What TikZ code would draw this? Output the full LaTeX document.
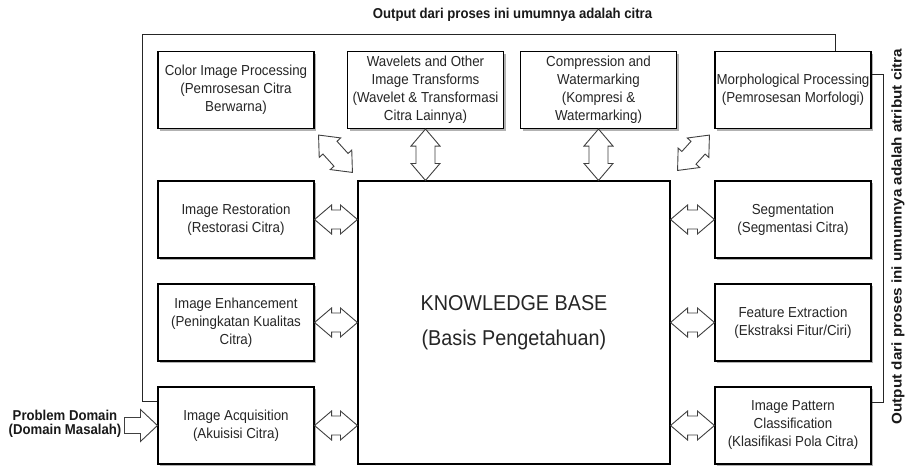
\documentclass[tikz,border=0pt]{standalone}
\usepackage{fontspec}
\setmainfont[FakeStretch=0.92]{Liberation Sans}
\newfontfamily\vfont{Liberation Sans}
\usetikzlibrary{calc,shadows}
\tikzset{
  box/.style={draw=black, line width=1.1pt, fill=white, minimum width=156pt, minimum height=77pt,
    inner sep=0pt, align=center, font=\fontsize{14.5}{18}\selectfont, text=black!85,
    general shadow={fill=black!30, shadow xshift=2pt, shadow yshift=-2pt}},
  kbbox/.style={draw=black, line width=1.1pt, fill=white, minimum width=312pt, minimum height=283pt,
    inner sep=0pt, align=center, font=\fontsize{21.5}{35}\selectfont, text=black!85},
  frameline/.style={draw=black!85, line width=0.9pt},
  blockarrow/.style={draw=black!75, line width=0.9pt, fill=white, line join=miter},
  boldlabel/.style={font=\bfseries\fontsize{14.3}{14}\selectfont, text=black!90, align=center, inner sep=0pt},
}
\newcommand\dblarrow[2]{%
  \path #1; \pgfgetlastxy{\ax}{\ay}%
  \path #2; \pgfgetlastxy{\bx}{\by}%
  \pgfmathsetmacro\alen{veclen(\bx-\ax,\by-\ay)}%
  \pgfmathsetmacro\aang{atan2(\by-\ay,\bx-\ax)}%
  \begin{scope}[shift={(\ax,\ay)}, rotate=\aang, x=1pt, y=1pt]
    \draw[blockarrow] (0,0) -- (17,14.5) -- (17,9.5) -- (\alen-17,9.5) -- (\alen-17,14.5)
      -- (\alen,0) -- (\alen-17,-14.5) -- (\alen-17,-9.5) -- (17,-9.5) -- (17,-14.5) -- cycle;
  \end{scope}}
\begin{document}
\begin{tikzpicture}[x=1pt, y=-1pt]
\useasboundingbox[fill=white] (0,0) rectangle (907,466);

% top row
\node[box] (color) at (236,90) {Color Image Processing\\(Pemrosesan Citra\\Berwarna)};
\node[box] (wav) at (425.5,90) {Wavelets and Other\\Image Transforms\\(Wavelet \& Transformasi\\Citra Lainnya)};
\node[box] (comp) at (598.5,90) {Compression and\\Watermarking\\(Kompresi \&\\Watermarking)};
\node[box] (morph) at (793,90) {Morphological Processing\\(Pemrosesan Morfologi)};

% left column
\node[box] (rest) at (236,219.5) {Image Restoration\\(Restorasi Citra)};
\node[box] (enh) at (236,322.5) {Image Enhancement\\(Peningkatan Kualitas\\Citra)};
\node[box] (acq) at (236,425.5) {Image Acquisition\\(Akuisisi Citra)};

% right column
\node[box] (seg) at (793,219.5) {Segmentation\\(Segmentasi Citra)};
\node[box] (feat) at (793,322.5) {Feature Extraction\\(Ekstraksi Fitur/Ciri)};
\node[box] (pat) at (793,425.5) {Image Pattern\\Classification\\(Klasifikasi Pola Citra)};

% knowledge base
\node[kbbox] (kb) at (514,322.5) {KNOWLEDGE BASE\\(Basis Pengetahuan)};

% frame lines
\draw[frameline] ($(acq.north west)+(0,15)$) -| (142,34) -| ($(morph.north west)+(121,0)$);
\draw[frameline] ($(morph.north east)+(0,23)$) -- ++(12,0) |- ($(pat.north east)+(0,16)$);

% labels
\node[boldlabel] (toptext) at (512.5,15) {Output dari proses ini umumnya adalah citra};
\node[rotate=90, inner sep=0pt, text=black!90] (sidetext) at (898,236.5)
  {\scalebox{1.09}[1]{\vfont\bfseries\fontsize{14}{16}\selectfont Output dari proses ini umumnya adalah atribut citra}};
\node[boldlabel] (pd) at (65,424) {Problem Domain\\(Domain Masalah)};

% problem domain arrow
\coordinate (pdtip) at (acq.west);
\draw[blockarrow] (pdtip) -- ++(-17,-16) -- ++(0,8) -- ++(-16,0) -- ++(0,16) -- ++(16,0) -- ++(0,8) -- cycle;

% double block arrows
\dblarrow{(rest.east)}{(rest.east -| kb.west)}
\dblarrow{(enh.east)}{(enh.east -| kb.west)}
\dblarrow{(acq.east)}{(acq.east -| kb.west)}
\dblarrow{(seg.west -| kb.east)}{(seg.west)}
\dblarrow{(feat.west -| kb.east)}{(feat.west)}
\dblarrow{(pat.west -| kb.east)}{(pat.west)}
\dblarrow{(wav.south)}{(wav.south |- kb.north)}
\dblarrow{(comp.south)}{(comp.south |- kb.north)}
\dblarrow{($(color.south east)+(4,6)$)}{($(kb.north west)+(-5,-8)$)}
\dblarrow{($(kb.north east)+(7,-10)$)}{($(morph.south west)+(-5,6)$)}
\end{tikzpicture}
\end{document}
